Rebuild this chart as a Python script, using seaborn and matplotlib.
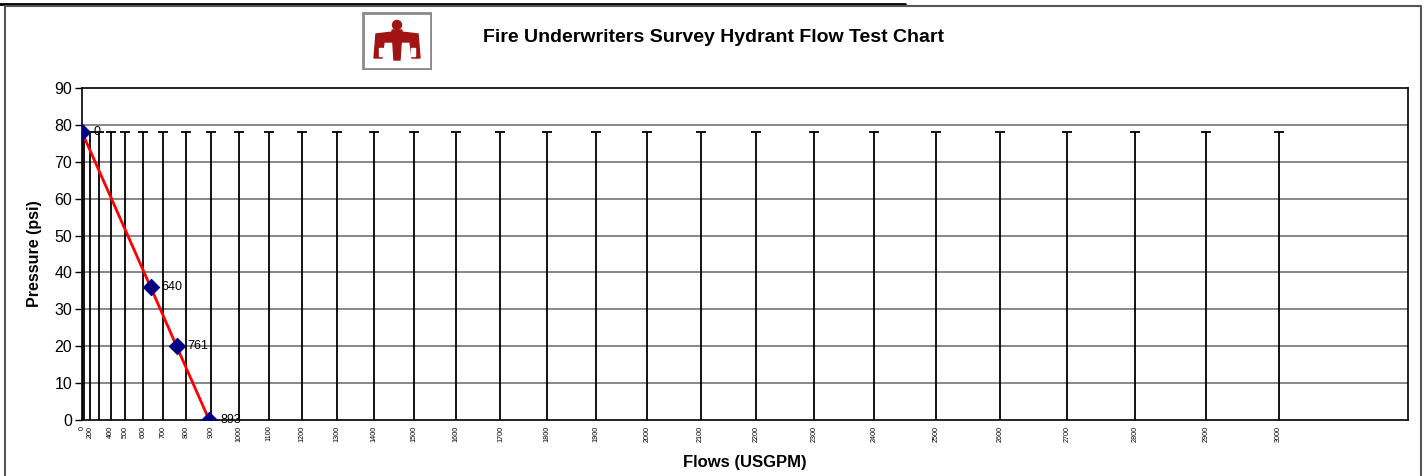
import numpy as np
import matplotlib
matplotlib.use("Agg")
import matplotlib.pyplot as plt
import seaborn as sns
import pandas as pd
from matplotlib.lines import Line2D
from matplotlib.patches import Rectangle, Circle, Polygon

# hydrant test points
flows = [0, 640, 761, 893]
pressures = [78, 36, 20, 0]
point_labels = ["0", "640", "761", "893"]

# reference flow lines (drawn up to static pressure)
static_pressure = 78
grid_flows = [0, 100, 200, 300, 400, 500, 600, 700, 800, 900, 1000,
              1100, 1200, 1300, 1400, 1500, 1600, 1700, 1800, 1900, 2000,
              2100, 2200, 2300, 2400, 2500, 2600, 2700, 2800, 2900, 3000]
grid_labels = ["0", "", "200", "", "400", "500", "600", "700", "800", "900", "1000",
               "1100", "1200", "1300", "1400", "1500", "1600", "1700", "1800", "1900", "2000",
               "2100", "2200", "2300", "2400", "2500", "2600", "2700", "2800", "2900", "3000"]
pressure_ticks = [0, 10, 20, 30, 40, 50, 60, 70, 80, 90]

sns.set_style("white")
plt.rcParams["font.family"] = ["Liberation Sans", "DejaVu Sans"]
for key in ["text.color", "axes.labelcolor", "xtick.color", "ytick.color"]:
    plt.rcParams[key] = "black"

df = pd.DataFrame({"flow": flows, "pressure": pressures})

fig = plt.figure(figsize=(14.24, 4.76), dpi=100)
ax = fig.add_axes([82 / 1424, 1 - 420 / 476, (1408 - 82) / 1424, (420 - 88) / 476])


# N^1.85 flow scale used on hydrant graph paper
def fwd(x):
    return np.sign(x) * np.abs(x) ** 1.85


def inv(y):
    return np.sign(y) * np.abs(y) ** (1 / 1.85)


ax.set_xscale("function", functions=(fwd, inv))
ax.set_xlim(0, 3171)
ax.set_ylim(0, 90)

# horizontal gridlines
for p in pressure_ticks[1:-1]:
    ax.axhline(p, color="#737373", lw=1.2, zorder=1)

# vertical flow lines with caps
ax.vlines(grid_flows, 0, static_pressure, color="black", lw=1.3, zorder=2)
ax.scatter(grid_flows, [static_pressure] * len(grid_flows), marker="_", s=45,
           color="black", linewidths=1.3, zorder=2)

sns.lineplot(data=df, x="flow", y="pressure", ax=ax, color="#ff0000", lw=2,
             sort=False, zorder=3)
sns.scatterplot(data=df, x="flow", y="pressure", ax=ax, marker="D", s=70,
                color="#000080", edgecolor="#000080", zorder=4)

for f, p, lab in zip(flows, pressures, point_labels):
    ax.annotate(lab, (f, p), xytext=(8, 0), textcoords="offset points",
                ha="left", va="center", fontsize=9, zorder=5)

ax.set_xticks(grid_flows)
ax.set_xticklabels(grid_labels, rotation=90, fontsize=5.2)
ax.set_yticks(pressure_ticks)
ax.tick_params(axis="y", labelsize=11.5, length=5, width=1, direction="out", left=True, pad=2)
ax.tick_params(axis="x", length=0, pad=4)

for side in ["left", "right", "top", "bottom"]:
    ax.spines[side].set_color("black")
    ax.spines[side].set_linewidth(1.2)

ax.set_xlabel("Flows (USGPM)", fontsize=12, fontweight="bold")
ax.set_ylabel("Pressure (psi)", fontsize=11.5, fontweight="bold")
ax.xaxis.set_label_coords(0.5, -0.105)
ax.yaxis.set_label_coords(-0.030, 0.5)

fig.text(483 / 1424, 1 - 37 / 476, "Fire Underwriters Survey Hydrant Flow Test Chart",
         fontsize=14, fontweight="bold", ha="left", va="center")

# chart border lines
fig.add_artist(Line2D([0, 905 / 1424], [1 - 4 / 476] * 2, color="black", lw=2,
                      transform=fig.transFigure))
fig.add_artist(Line2D([5 / 1424, 5 / 1424, 1421 / 1424, 1421 / 1424],
                      [0, 1 - 6 / 476, 1 - 6 / 476, 0], color="#555555", lw=1.5,
                      transform=fig.transFigure))

# logo badge
lax = fig.add_axes([362 / 1424, 1 - 70 / 476, 70 / 1424, 58 / 476])
lax.set_xlim(0, 70)
lax.set_ylim(0, 58)
lax.axis("off")
lax.add_patch(Rectangle((1, 1), 68, 56, fill=False, edgecolor="#8a8a8a", lw=2))
red = "#a01414"
lax.add_patch(Circle((35, 45), 4.5, color=red))
lax.add_patch(Polygon([(30, 40), (40, 40), (38, 10), (32, 10)], color=red))
lax.add_patch(Polygon([(14, 36), (31, 38), (31, 28), (22, 28), (20, 12), (12, 12)], color=red))
lax.add_patch(Polygon([(56, 36), (39, 38), (39, 28), (48, 28), (50, 12), (58, 12)], color=red))
lax.add_patch(Rectangle((17, 14), 4, 8, color="white"))
lax.add_patch(Rectangle((49, 14), 4, 8, color="white"))

fig.savefig("out.png", dpi=100)
